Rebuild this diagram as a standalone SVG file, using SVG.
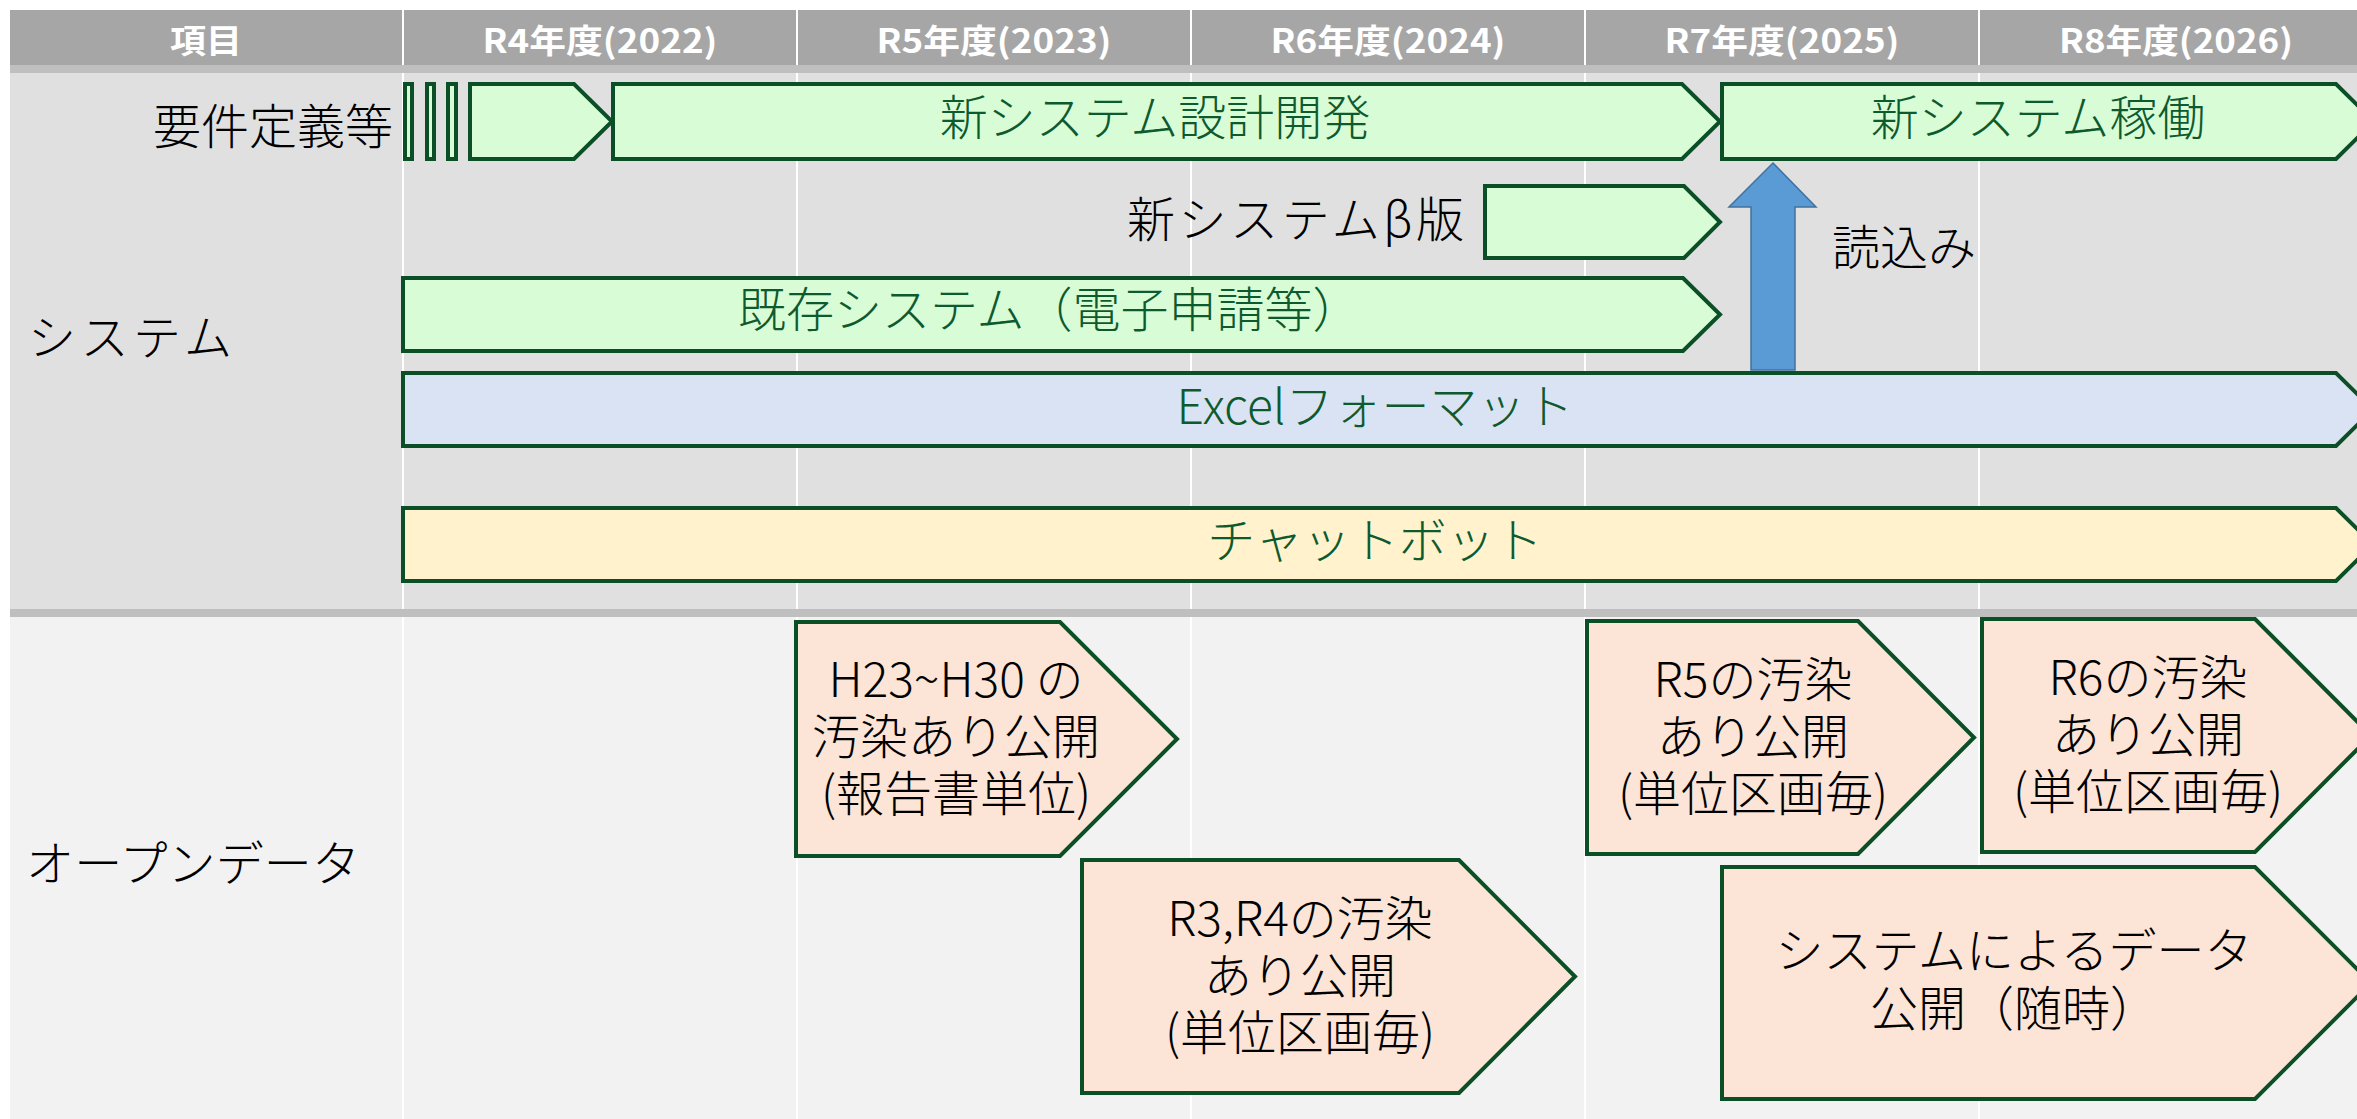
<svg xmlns="http://www.w3.org/2000/svg" width="2357" height="1119" viewBox="0 0 2357 1119">
<style>
text{font-family:"Noto Sans CJK JP","Noto Sans CJK SC",sans-serif}
.hd{font-size:33px;font-weight:bold;fill:#FFFFFF;text-anchor:middle}
.lbl{font-size:48px;font-weight:300;fill:#000000}
.bt{font-size:48px;font-weight:300;fill:#0E5A2F}
.od{font-size:48px;font-weight:300;fill:#000000;text-anchor:middle}
.g{fill:#D8FCD5;stroke:#0B4F26;stroke-width:4;stroke-linejoin:miter}
.b{fill:#DAE3F3;stroke:#0B4F26;stroke-width:4}
.y{fill:#FFF2CC;stroke:#0B4F26;stroke-width:4}
.p{fill:#FCE4D6;stroke:#0B4F26;stroke-width:4}
.vl{stroke:#FFFFFF;stroke-width:2}
.band{fill:#BFBFBF}
</style>
<g id="background">
<rect x="10" y="10" width="2347" height="55" fill="#A6A6A6"/>
<rect x="10" y="73" width="2347" height="536" fill="#E0E0E0"/>
<rect x="10" y="617" width="2347" height="502" fill="#F2F2F2"/>
<line class="vl" x1="403" y1="10" x2="403" y2="1119"/>
<line class="vl" x1="797" y1="10" x2="797" y2="1119"/>
<line class="vl" x1="1191" y1="10" x2="1191" y2="1119"/>
<line class="vl" x1="1585" y1="10" x2="1585" y2="1119"/>
<line class="vl" x1="1979" y1="10" x2="1979" y2="1119"/>
<rect class="band" x="10" y="65" width="2347" height="8"/>
<rect class="band" x="10" y="609" width="2347" height="8"/>
</g>
<g id="header">
<text class="hd" x="206" y="53" textLength="72" lengthAdjust="spacingAndGlyphs">項目</text>
<text class="hd" x="600" y="53" textLength="235" lengthAdjust="spacingAndGlyphs">R4年度(2022)</text>
<text class="hd" x="994" y="53" textLength="235" lengthAdjust="spacingAndGlyphs">R5年度(2023)</text>
<text class="hd" x="1388" y="53" textLength="235" lengthAdjust="spacingAndGlyphs">R6年度(2024)</text>
<text class="hd" x="1782" y="53" textLength="235" lengthAdjust="spacingAndGlyphs">R7年度(2025)</text>
<text class="hd" x="2176" y="53" textLength="234" lengthAdjust="spacingAndGlyphs">R8年度(2026)</text>
</g>
<g id="section-labels">
<text class="lbl" x="28" y="355" textLength="204" lengthAdjust="spacing">システム</text>
<text class="lbl" x="26" y="881" textLength="334" lengthAdjust="spacing">オープンデータ</text>
</g>
<g id="requirements">
<rect class="g" x="405" y="84" width="7" height="75"/>
<rect class="g" x="427" y="84" width="7" height="75"/>
<rect class="g" x="448" y="84" width="8" height="75"/>
<polygon class="g" points="470,84 574,84 612,121.5 574,159 470,159"/>
<text class="lbl" x="393" y="144" text-anchor="end">要件定義等</text>
</g>
<g id="new-system-dev">
<polygon class="g" points="613,84 1682,84 1720,121.5 1682,159 613,159"/>
<text class="bt" x="1155" y="135" text-anchor="middle">新システム設計開発</text>
</g>
<g id="new-system-run">
<polygon class="g" points="1722,84 2336,84 2374,121.5 2336,159 1722,159"/>
<text class="bt" x="2038" y="135" text-anchor="middle">新システム稼働</text>
</g>
<g id="beta">
<polygon class="g" points="1485,186 1684,186 1720,222 1684,258 1485,258"/>
<text class="lbl" x="1464" y="237" text-anchor="end" textLength="337" lengthAdjust="spacing">新システムβ版</text>
</g>
<g id="existing-system">
<polygon class="g" points="403,278 1683,278 1720,314.5 1683,351 403,351"/>
<text class="bt" x="738" y="327">既存システム（電子申請等）</text>
</g>
<g id="excel-format">
<polygon class="b" points="403,373 2336,373 2373,409.5 2336,446 403,446"/>
<text class="bt" x="1375" y="424" text-anchor="middle">Excelフォーマット</text>
</g>
<g id="chatbot">
<polygon class="y" points="403,508 2336,508 2373,544.5 2336,581 403,581"/>
<text class="bt" x="1375" y="558" text-anchor="middle">チャットボット</text>
</g>
<g id="od-h23-h30">
<polygon class="p" points="796,622 1060,622 1177,739 1060,856 796,856"/>
<text class="od" x="956" y="697">H23~H30 の</text>
<text class="od" x="956" y="754">汚染あり公開</text>
<text class="od" x="956" y="811">(報告書単位)</text>
</g>
<g id="od-r3-r4">
<polygon class="p" points="1082,860 1459,860 1575,976.5 1459,1093 1082,1093"/>
<text class="od" x="1300" y="936">R3,R4の汚染</text>
<text class="od" x="1300" y="993">あり公開</text>
<text class="od" x="1300" y="1050">(単位区画毎)</text>
</g>
<g id="od-r5">
<polygon class="p" points="1587,621 1858,621 1974,737.5 1858,854 1587,854"/>
<text class="od" x="1753" y="697">R5の汚染</text>
<text class="od" x="1753" y="754">あり公開</text>
<text class="od" x="1753" y="811">(単位区画毎)</text>
</g>
<g id="od-r6">
<polygon class="p" points="1982,619 2255,619 2371,735.5 2255,852 1982,852"/>
<text class="od" x="2148" y="695">R6の汚染</text>
<text class="od" x="2148" y="752">あり公開</text>
<text class="od" x="2148" y="809">(単位区画毎)</text>
</g>
<g id="od-system">
<polygon class="p" points="1722,867 2255,867 2371,983 2255,1099 1722,1099"/>
<text class="od" x="2014" y="968">システムによるデータ</text>
<text class="od" x="2014" y="1026">公開（随時）</text>
</g>
<g id="connectors">
<polygon points="1773,163 1816,207 1795,207 1795,370 1751,370 1751,207 1729,207" fill="#5B9BD5" stroke="#41719C" stroke-width="1.5"/>
<text class="lbl" x="1832" y="265">読込み</text>
</g>
</svg>
